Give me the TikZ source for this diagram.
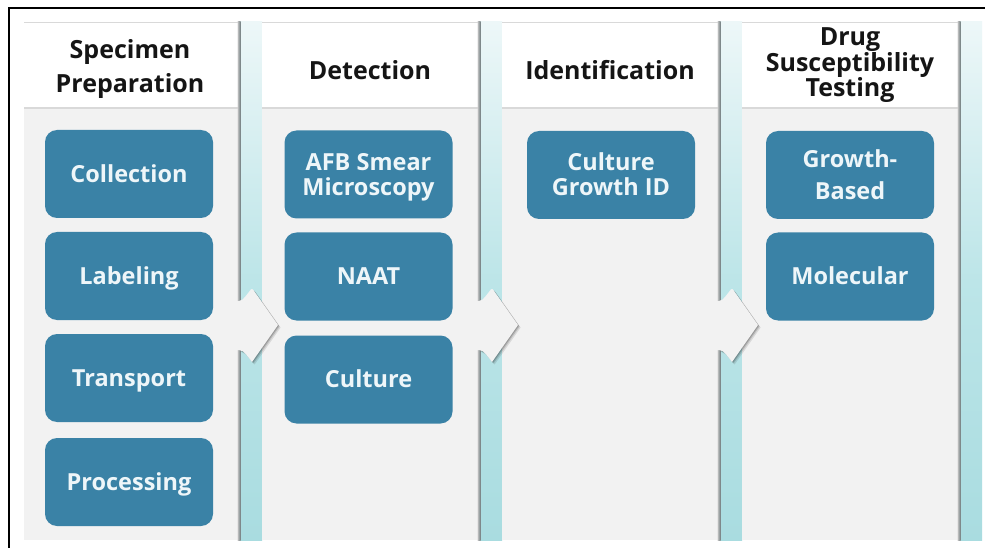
\documentclass[tikz,border=0pt]{standalone}
\usepackage{fontspec}
\setmainfont{Open Sans}

\definecolor{boxblue}{HTML}{3A82A6}
\definecolor{boxtext}{HTML}{EEF6F9}
\definecolor{bodygrey}{HTML}{F2F2F2}
\definecolor{rulegrey}{HTML}{D9D9D9}
\definecolor{tealtop}{HTML}{EDF7F8}
\definecolor{tealmid}{HTML}{BCE5E8}
\definecolor{tealbot}{HTML}{A9DCE0}
\definecolor{headtext}{HTML}{151515}
\definecolor{edgeshade}{HTML}{6F7C7E}

\tikzset{
  % blue step boxes; text height is measured up from the last baseline
  stepbox/.style={fill=boxblue, rounded corners=12pt, minimum width=168pt,
    minimum height=88pt, inner sep=0pt, text=boxtext, align=center,
    text height=22.8pt, text depth=6pt,
    font=\fontsize{23.5}{25}\selectfont\bfseries},
  twolines/.style={text height=47.8pt},
  widelines/.style={text height=54.8pt, font=\fontsize{23.5}{32}\selectfont\bfseries},
  headtitle/.style={text=headtext, align=center, inner sep=0pt,
    text height=25pt, text depth=7pt,
    font=\fontsize{25}{25.5}\selectfont\bfseries},
  strip/.style={top color=tealtop, bottom color=tealbot, middle color=tealmid},
  chevron/.style={fill=bodygrey},
}

\begin{document}
\begin{tikzpicture}[x=1pt, y=-1pt]
  \useasboundingbox (0,0) rectangle (985,548);
  \fill[white] (0,0) rectangle (985,548);

  % teal gutters between the columns
  \foreach \r in {238,478,718,958}
    \shade[strip] (\r,22) rectangle (\r+24,540);

  % columns: white header over a grey body
  \foreach \l/\r in {24/238, 262/478, 502/718, 742/958} {
    \fill[bodygrey] (\l,108) rectangle (\r,540);
    \fill[white] (\l,22) rectangle (\r,108);
    \draw[rulegrey, line width=0.6pt] (\l,22.3) -- (\r,22.3);
    \draw[rulegrey, line width=1.5pt] (\l,108) -- (\r,108);
    \shade[left color=gray!45, right color=edgeshade] (\r-0.5,22) rectangle (\r+2.5,540);
  }

  % chevrons joining each column to the next, with a soft drop shadow
  \foreach \r in {238,478,718} {
    \foreach \s/\o in {2.6/0.10, 1.6/0.14, 0.8/0.18}
      \fill[fill=black, opacity=\o, rounded corners=2pt, shift={(\s,\s)}]
        (\r+1,301) -- (\r+3,301) -- (\r+7,297) -- (\r+14,288)
        [sharp corners] -- (\r+40,325) -- (\r+14,362)
        [rounded corners=2pt] -- (\r+7,353) -- (\r+3,350) -- (\r+1,350) -- cycle;
    \fill[chevron, rounded corners=2pt]
      (\r-3,301) -- (\r+3,301) -- (\r+7,297) -- (\r+14,288)
      [sharp corners] -- (\r+40,325) -- (\r+14,362)
      [rounded corners=2pt] -- (\r+7,353) -- (\r+3,350) -- (\r-3,350) -- cycle;
  }

  % frame
  \draw[black, line width=2pt] (9,548) -- (9,8) -- (985,8);

  % headers
  \node[headtitle, text height=59pt, font=\fontsize{25}{34}\selectfont\bfseries]
    (hspec) at (130,67) {Specimen\\Preparation};
  \node[headtitle] (hdet) at (370,71) {Detection};
  \node[headtitle] (hid) at (610,71) {Identification};
  \node[headtitle, text height=75pt] (hdst) at (850,63) {Drug\\Susceptibility\\Testing};

  % steps
  \node[stepbox] (coll)  at (129,174) {Collection};
  \node[stepbox] (lab)   at (129,276) {Labeling};
  \node[stepbox] (trans) at (129,378) {Transport};
  \node[stepbox] (proc)  at (129,482) {Processing};

  \node[stepbox, twolines] (afb)  at (368.5,174.5) {AFB Smear\\Microscopy};
  \node[stepbox] (naat) at (368.5,276.5) {NAAT};
  \node[stepbox] (cult) at (368.5,379.5) {Culture};

  \node[stepbox, twolines] (cgid) at (611,175) {Culture\\Growth ID};

  \node[stepbox, widelines] (grow) at (850,175) {Growth-\\Based};
  \node[stepbox] (mol)  at (850,276.5) {Molecular};
\end{tikzpicture}
\end{document}
